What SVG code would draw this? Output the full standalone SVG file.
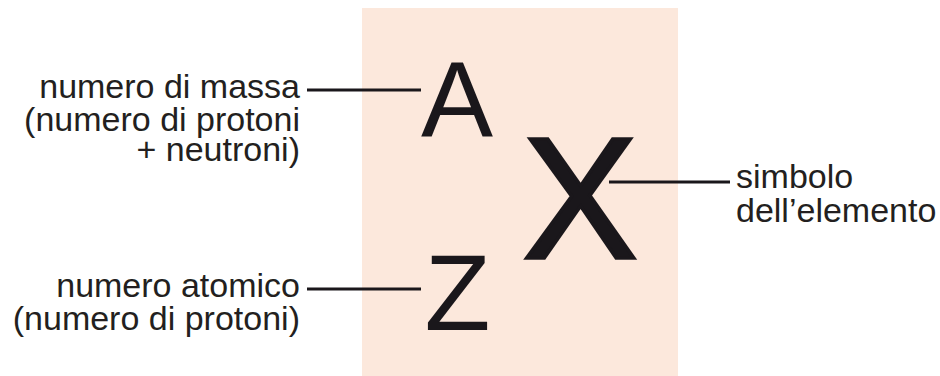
<svg xmlns="http://www.w3.org/2000/svg" width="940" height="376" viewBox="0 0 940 376">
<style>
.lbl{font-family:"Liberation Sans",Arial,sans-serif;font-size:34px;fill:#231f20}
.sym{font-family:"Liberation Sans",Arial,sans-serif;fill:#1a171b;text-anchor:middle}
.ln{stroke:#1a171b;stroke-width:3;fill:none}
</style>
<rect x="362" y="8" width="316" height="368" fill="#fce8dc"/>
<g id="node-A"><text class="sym" x="457" y="137" font-size="108">A</text></g>
<g id="node-Z"><text class="sym" x="457.5" y="330" font-size="108">Z</text></g>
<g id="node-X"><text class="sym" x="580" y="257.5" font-size="172" stroke="#1a171b" stroke-width="3.5">X</text></g>
<g id="label-massa">
<text class="lbl" text-anchor="end"><tspan x="300" y="97.5">numero di massa</tspan><tspan x="300" y="131">(numero di protoni</tspan><tspan x="300" y="160.5">+ neutroni)</tspan></text>
</g>
<g id="label-atomico">
<text class="lbl" text-anchor="end"><tspan x="300" y="297">numero atomico</tspan><tspan x="300" y="330">(numero di protoni)</tspan></text>
</g>
<g id="label-simbolo">
<text class="lbl"><tspan x="736" y="188">simbolo</tspan><tspan x="736" y="221.5">dell’elemento</tspan></text>
</g>
<g id="connectors">
<line class="ln" x1="307" y1="90" x2="421" y2="90"/>
<line class="ln" x1="307" y1="289" x2="421" y2="289"/>
<line class="ln" x1="609" y1="182" x2="730" y2="182"/>
</g>
</svg>
